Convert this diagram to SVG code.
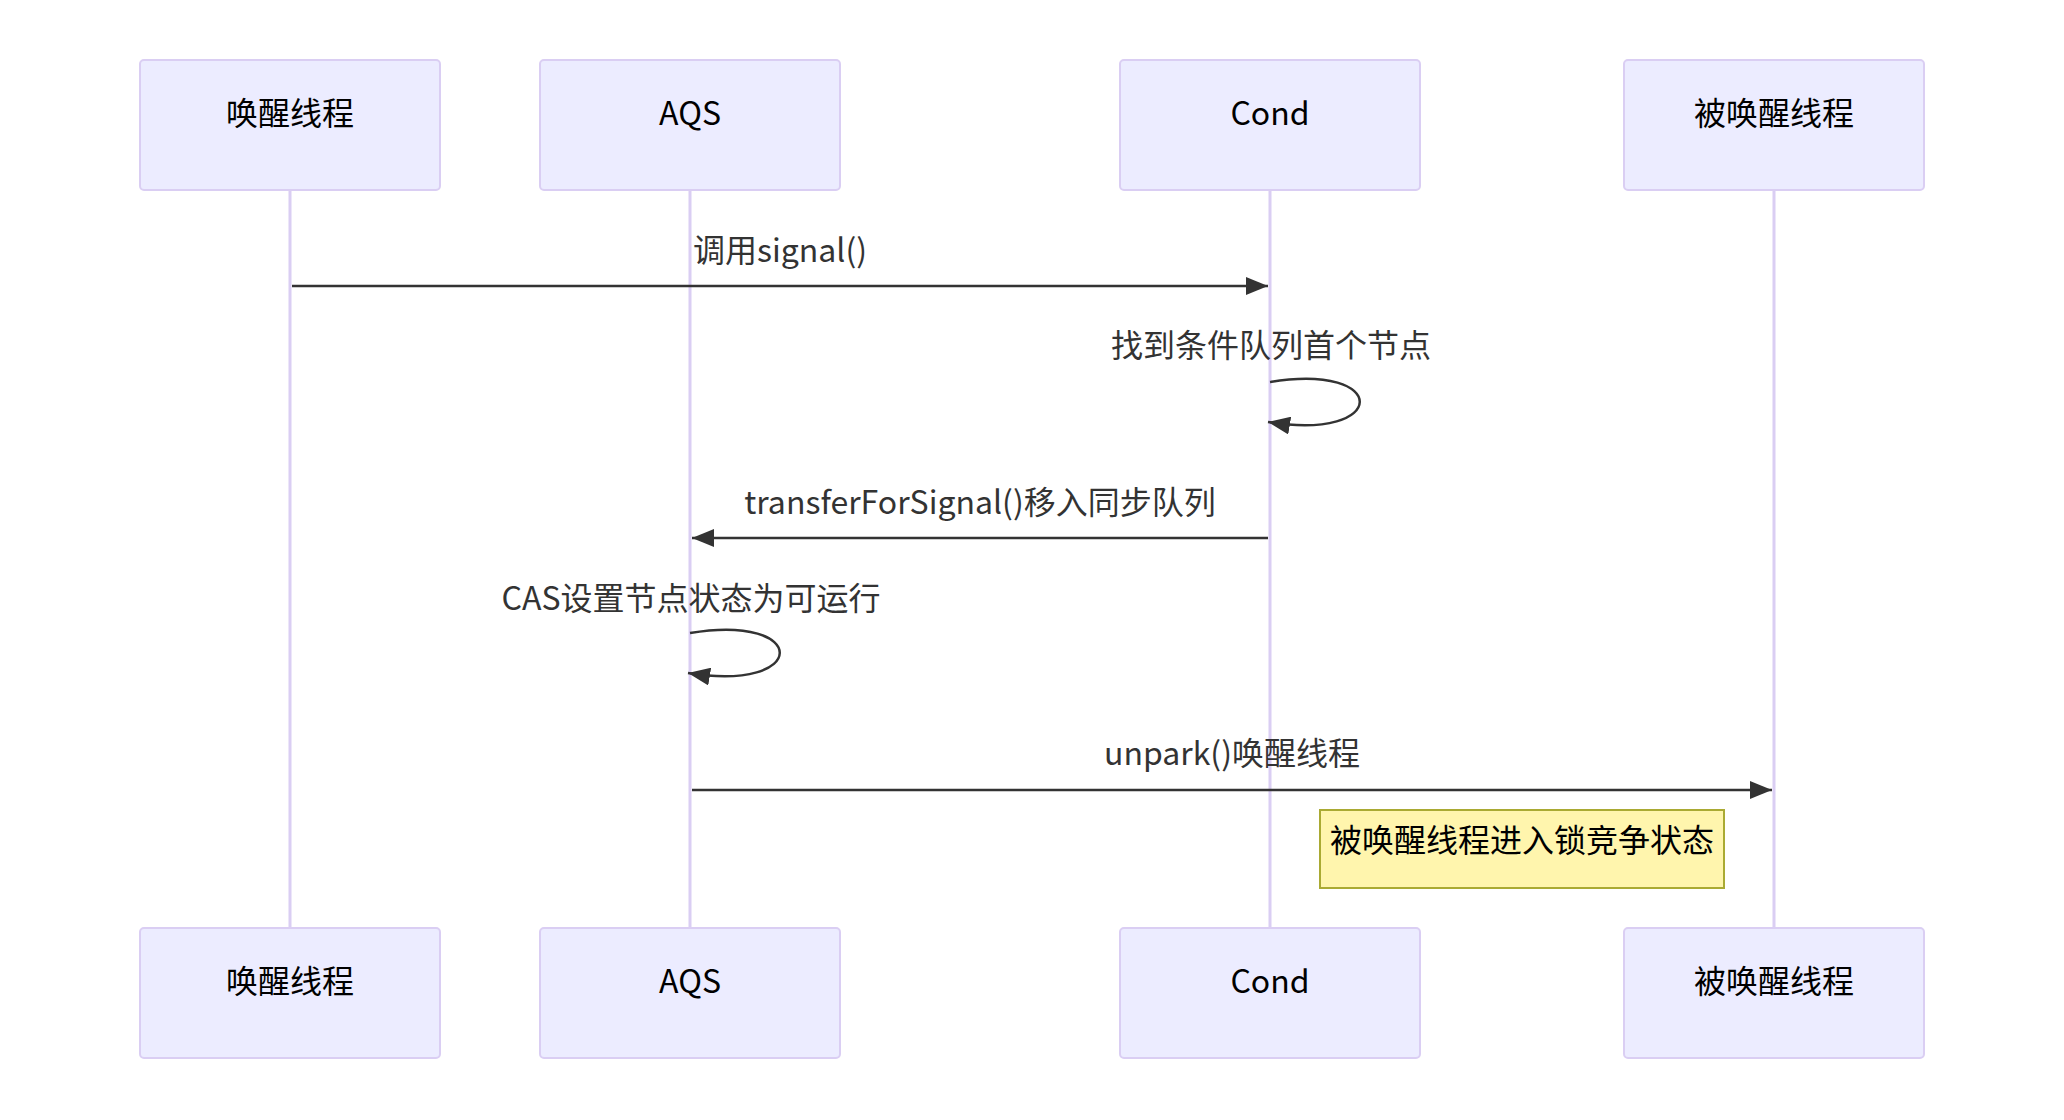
<svg xmlns="http://www.w3.org/2000/svg" width="2064" height="1120" viewBox="0 0 2064 1120">
<defs>
<style>
.actor{fill:#ECECFF;stroke:#DACEF3;stroke-width:2}
.alabel{font-family:"Noto Sans CJK SC","Noto Sans",sans-serif;font-size:32px;fill:#000;text-anchor:middle}
.life{stroke:#DACEF3;stroke-width:3}
.msg{stroke:#333;stroke-width:2.5;fill:none}
.mlabel{font-family:"Noto Sans CJK SC","Noto Sans",sans-serif;font-size:32px;fill:#333;text-anchor:middle}
.note{fill:#FFF5AD;stroke:#AAAA33;stroke-width:2}
.nlabel{font-family:"Noto Sans CJK SC","Noto Sans",sans-serif;font-size:32px;fill:#000;text-anchor:middle}
</style>
<marker id="arrow" markerWidth="12" markerHeight="12" refX="11" refY="6" orient="auto" markerUnits="userSpaceOnUse" viewBox="0 0 12 12">
<path d="M0,0 L12,6 L0,12 z" fill="#333"/>
</marker>
<marker id="ah" viewBox="0 0 22 18" markerWidth="22" markerHeight="18" refX="22" refY="9" orient="auto" markerUnits="userSpaceOnUse">
<path d="M0,0 L22,9 L0,18 z" fill="#333"/>
</marker>
</defs>
<rect width="2064" height="1120" fill="#fff"/>
<g id="lifelines">
<line class="life" x1="290" y1="190" x2="290" y2="928"/>
<line class="life" x1="690" y1="190" x2="690" y2="928"/>
<line class="life" x1="1270" y1="190" x2="1270" y2="928"/>
<line class="life" x1="1774" y1="190" x2="1774" y2="928"/>
</g>
<g id="actor-waker">
<rect class="actor" x="140" y="60" width="300" height="130" rx="4"/>
<text class="alabel" x="290" y="125">唤醒线程</text>
<rect class="actor" x="140" y="928" width="300" height="130" rx="4"/>
<text class="alabel" x="290" y="993">唤醒线程</text>
</g>
<g id="actor-aqs">
<rect class="actor" x="540" y="60" width="300" height="130" rx="4"/>
<text class="alabel" x="690" y="125">AQS</text>
<rect class="actor" x="540" y="928" width="300" height="130" rx="4"/>
<text class="alabel" x="690" y="993">AQS</text>
</g>
<g id="actor-cond">
<rect class="actor" x="1120" y="60" width="300" height="130" rx="4"/>
<text class="alabel" x="1270" y="125">Cond</text>
<rect class="actor" x="1120" y="928" width="300" height="130" rx="4"/>
<text class="alabel" x="1270" y="993">Cond</text>
</g>
<g id="actor-woken">
<rect class="actor" x="1624" y="60" width="300" height="130" rx="4"/>
<text class="alabel" x="1774" y="125">被唤醒线程</text>
<rect class="actor" x="1624" y="928" width="300" height="130" rx="4"/>
<text class="alabel" x="1774" y="993">被唤醒线程</text>
</g>
<g id="connectors">
<text class="mlabel" x="780" y="262">调用signal()</text>
<line class="msg" x1="292" y1="286" x2="1268" y2="286" marker-end="url(#ah)"/>
<text class="mlabel" x="1271" y="357">找到条件队列首个节点</text>
<path class="msg" d="M1270,382 C1390,362 1390,442 1268,422" marker-end="url(#ah)"/>
<text class="mlabel" x="980" y="514">transferForSignal()移入同步队列</text>
<line class="msg" x1="1268" y1="538" x2="692" y2="538" marker-end="url(#ah)"/>
<text class="mlabel" x="691" y="610">CAS设置节点状态为可运行</text>
<path class="msg" d="M690,633 C810,613 810,693 688,673" marker-end="url(#ah)"/>
<text class="mlabel" x="1232" y="765">unpark()唤醒线程</text>
<line class="msg" x1="692" y1="790" x2="1772" y2="790" marker-end="url(#ah)"/>
</g>
<g id="note">
<rect class="note" x="1320" y="810" width="404" height="78"/>
<text class="nlabel" x="1522" y="852">被唤醒线程进入锁竞争状态</text>
</g>
</svg>
